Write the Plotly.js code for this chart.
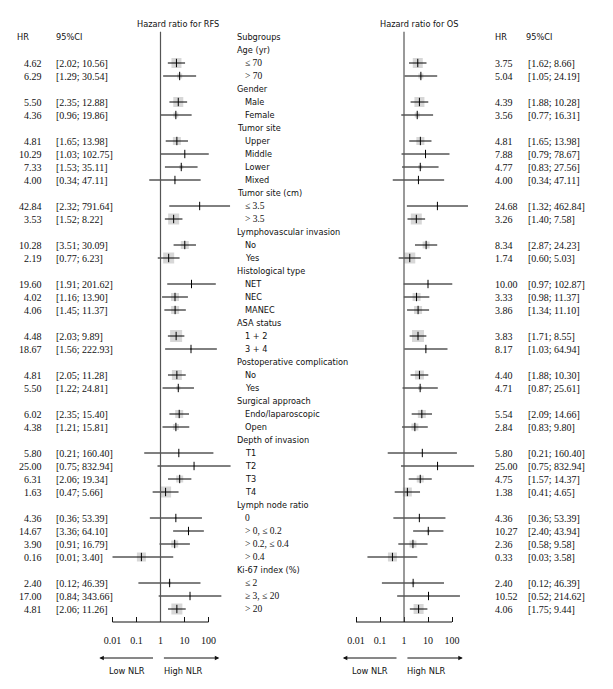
<!DOCTYPE html>
<html>
<head>
<meta charset="utf-8">
<script src="https://cdn.plot.ly/plotly-3.0.1.min.js"></script>
<style>
  body { margin: 0; background: #fff; }
  #plot { width: 613px; height: 689px; }
</style>
</head>
<body>
<div id="plot"></div>
<script>
// Subgroups and their levels
const groups = ["Age (yr)", "Gender", "Tumor site", "Tumor site (cm)", "Lymphovascular invasion",
  "Histological type", "ASA status", "Postoperative complication", "Surgical approach",
  "Depth of invasion", "Lymph node ratio", "Ki-67 index (%)"];
const levels = [
  ["≤ 70", "> 70"],
  ["Male", "Female"],
  ["Upper", "Middle", "Lower", "Mixed"],
  ["≤ 3.5", "> 3.5"],
  ["No", "Yes"],
  ["NET", "NEC", "MANEC"],
  ["1 + 2", "3 + 4"],
  ["No", "Yes"],
  ["Endo/laparoscopic", "Open"],
  ["T1", "T2", "T3", "T4"],
  ["0", "> 0, ≤ 0.2", "> 0.2, ≤ 0.4", "> 0.4"],
  ["≤ 2", "≥ 3, ≤ 20", "> 20"]
];

// Hazard ratio for RFS
const hrRfs = [4.62, 6.29, 5.50, 4.36, 4.81, 10.29, 7.33, 4.00, 42.84, 3.53, 10.28, 2.19,
  19.60, 4.02, 4.06, 4.48, 18.67, 4.81, 5.50, 6.02, 4.38, 5.80, 25.00, 6.31, 1.63,
  4.36, 14.67, 3.90, 0.16, 2.40, 17.00, 4.81];
const loRfs = [2.02, 1.29, 2.35, 0.96, 1.65, 1.03, 1.53, 0.34, 2.32, 1.52, 3.51, 0.77,
  1.91, 1.16, 1.45, 2.03, 1.56, 2.05, 1.22, 2.35, 1.21, 0.21, 0.75, 2.06, 0.47,
  0.36, 3.36, 0.91, 0.01, 0.12, 0.84, 2.06];
const hiRfs = [10.56, 30.54, 12.88, 19.86, 13.98, 102.75, 35.11, 47.11, 791.64, 8.22, 30.09, 6.23,
  201.62, 13.90, 11.37, 9.89, 222.93, 11.28, 24.81, 15.40, 15.81, 160.40, 832.94, 19.34, 5.66,
  53.39, 64.10, 16.79, 3.40, 46.39, 343.66, 11.26];
const weightRfs = [10, 5, 10, 5, 8, 1, 4, 2, 1, 11, 8, 11,
  1, 8, 8, 12, 2, 10, 4, 8, 6, 1, 1, 7, 11,
  2, 2, 7, 9, 3, 1, 11];

// Hazard ratio for OS
const hrOs = [3.75, 5.04, 4.39, 3.56, 4.81, 7.88, 4.77, 4.00, 24.68, 3.26, 8.34, 1.74,
  10.00, 3.33, 3.86, 3.83, 8.17, 4.40, 4.71, 5.54, 2.84, 5.80, 25.00, 4.75, 1.38,
  4.36, 10.27, 2.36, 0.33, 2.40, 10.52, 4.06];
const loOs = [1.62, 1.05, 1.88, 0.77, 1.65, 0.79, 0.83, 0.34, 1.32, 1.40, 2.87, 0.60,
  0.97, 0.98, 1.34, 1.71, 1.03, 1.88, 0.87, 2.09, 0.83, 0.21, 0.75, 1.57, 0.41,
  0.36, 2.40, 0.58, 0.03, 0.12, 0.52, 1.75];
const hiOs = [8.66, 24.19, 10.28, 16.31, 13.98, 78.67, 27.56, 47.11, 462.84, 7.58, 24.23, 5.03,
  102.87, 11.37, 11.10, 8.55, 64.94, 10.30, 25.61, 14.66, 9.80, 160.40, 832.94, 14.37, 4.65,
  53.39, 43.94, 9.58, 3.58, 46.39, 214.62, 9.44];
const weightOs = [10, 5, 10, 5, 8, 1, 4, 2, 1, 11, 7, 11,
  1, 8, 8, 12, 2, 9, 4, 8, 7, 1, 1, 7, 9,
  2, 3, 7, 9, 3, 2, 10];

const tickVals = [0.01, 0.1, 1, 10, 100];
const tickText = ["0.01", "0.1", "1", "10", "100"];

// page geometry (pixels)
const W = 613, H = 689;
const rowTop = 37, rowStep = 13;
const axisPx = 622;
const decadePx = 24;
const panels = [
  { center: 160.5, from: 60, to: 300 },
  { center: 404, from: 310, to: 500 }
];

const sans = "DejaVu Sans, Verdana, sans-serif";
const serif = "Liberation Serif, Times New Roman, serif";
const ink = "#111";

// assign rows: header on row 0, group title, then its levels
const labelRows = [];
const dataRows = [];
let row = 1;
groups.forEach((g, gi) => {
  labelRows.push({ text: g, row: row, head: true });
  row++;
  levels[gi].forEach(l => {
    labelRows.push({ text: l, row: row, head: false });
    dataRows.push(row);
    row++;
  });
});

const fmt = v => v.toFixed(2);
const px = p => p / W;

function panelTraces(hr, lo, hi, wt, xa) {
  const cx = [], cy = [];
  hr.forEach((_, i) => {
    cx.push(lo[i], hi[i], null);
    cy.push(dataRows[i], dataRows[i], null);
  });
  return [
    {
      x: hr, y: dataRows, xaxis: xa, yaxis: "y", type: "scatter", mode: "markers",
      marker: { symbol: "square", size: wt, color: "#c6c6c6", line: { width: 0 } },
      hoverinfo: "skip"
    },
    {
      x: cx, y: cy, xaxis: xa, yaxis: "y", type: "scatter", mode: "lines",
      line: { color: "#000", width: 1 }, hoverinfo: "skip"
    },
    {
      x: hr, y: dataRows, xaxis: xa, yaxis: "y", type: "scatter", mode: "markers",
      marker: { symbol: "line-ns-open", size: 6, color: "#000", line: { color: "#000", width: 1 } },
      hoverinfo: "skip"
    }
  ];
}

const data = [
  ...panelTraces(hrRfs, loRfs, hiRfs, weightRfs, "x"),
  ...panelTraces(hrOs, loOs, hiOs, weightOs, "x2")
];

function xAxis(p) {
  return {
    type: "log",
    domain: [px(p.from), px(p.to)],
    range: [(p.from - p.center) / decadePx, (p.to - p.center) / decadePx],
    anchor: "y",
    showgrid: false, zeroline: false, showline: false,
    tickvals: tickVals, ticktext: tickText,
    ticks: "inside", ticklen: 5, tickwidth: 1, tickcolor: ink,
    tickfont: { family: serif, size: 10, color: ink },
    ticklabelstandoff: 11,
    fixedrange: true
  };
}

const annotations = [];
const addText = (text, xPx, y, anchor, font, size) => annotations.push({
  text: text, x: px(xPx), xref: "paper", y: y, yref: "y",
  xanchor: anchor, yanchor: "middle", showarrow: false,
  font: { family: font, size: size, color: ink }
});

// headers
addText("Hazard ratio for RFS", 178, -1, "center", sans, 8.2);
addText("Hazard ratio for OS", 419, -1, "center", sans, 8.2);
addText("HR", 15, 0, "left", sans, 8.2);
addText("95%CI", 54, 0, "left", sans, 8.2);
addText("Subgroups", 235, 0, "left", sans, 8.2);
addText("HR", 493, 0, "left", sans, 8.2);
addText("95%CI", 524, 0, "left", sans, 8.2);

// subgroup labels
labelRows.forEach(l => {
  const numeric = /^[≤≥>0]/.test(l.text);
  addText(l.text, l.head ? 235 : 243, l.row, "left", numeric ? serif : sans, numeric ? 9.5 : 8.2);
});

// HR and CI columns
dataRows.forEach((r, i) => {
  addText(fmt(hrRfs[i]), 44, r, "right", serif, 10);
  addText("[" + fmt(loRfs[i]) + "; " + fmt(hiRfs[i]) + "]", 54, r, "left", serif, 10);
  addText(fmt(hrOs[i]), 493, r, "left", serif, 10);
  addText("[" + fmt(loOs[i]) + "; " + fmt(hiOs[i]) + "]", 526, r, "left", serif, 10);
});

// direction arrows and their labels
const arrowY = 1 - 658 / H;
const labelY = 1 - 671 / H;
["x", "x2"].forEach(xa => {
  [[-0.25, -2.55], [0.08, 2.45]].forEach(([tail, head]) => annotations.push({
    x: head, ax: tail, xref: xa, axref: xa, y: arrowY, ay: 0, yref: "paper", ayref: "pixel",
    text: "", showarrow: true, arrowhead: 2, arrowsize: 0.9, arrowwidth: 1, arrowcolor: ink
  }));
  annotations.push({ text: "Low NLR", x: -1.4, xref: xa, y: labelY, yref: "paper",
    xanchor: "center", yanchor: "middle", showarrow: false, font: { family: sans, size: 8.3, color: ink } });
  annotations.push({ text: "High NLR", x: 0.95, xref: xa, y: labelY, yref: "paper",
    xanchor: "center", yanchor: "middle", showarrow: false, font: { family: sans, size: 8.3, color: ink } });
});

const yBottom = (axisPx - rowTop) / rowStep;
const yTop = (0 - rowTop) / rowStep;

const shapes = [];
["x", "x2"].forEach(xa => {
  // no-effect line at HR = 1
  shapes.push({ type: "line", xref: xa, yref: "y", x0: 1, x1: 1, y0: -0.4, y1: yBottom,
    line: { color: "#555", width: 1.2 } });
  // axis baseline
  shapes.push({ type: "line", xref: xa, yref: "y domain", x0: tickVals[0], x1: tickVals[tickVals.length - 1],
    y0: 0, y1: 0, line: { color: ink, width: 1 } });
});

const layout = {
  width: W, height: H,
  margin: { l: 0, r: 0, t: 0, b: 0 },
  paper_bgcolor: "#fff", plot_bgcolor: "rgba(0,0,0,0)",
  showlegend: false,
  xaxis: xAxis(panels[0]),
  xaxis2: xAxis(panels[1]),
  yaxis: {
    domain: [(H - axisPx) / H, 1],
    range: [yBottom, yTop],
    visible: false, fixedrange: true
  },
  annotations: annotations,
  shapes: shapes
};

Plotly.newPlot("plot", data, layout, { displayModeBar: false, staticPlot: true });
</script>
</body>
</html>
